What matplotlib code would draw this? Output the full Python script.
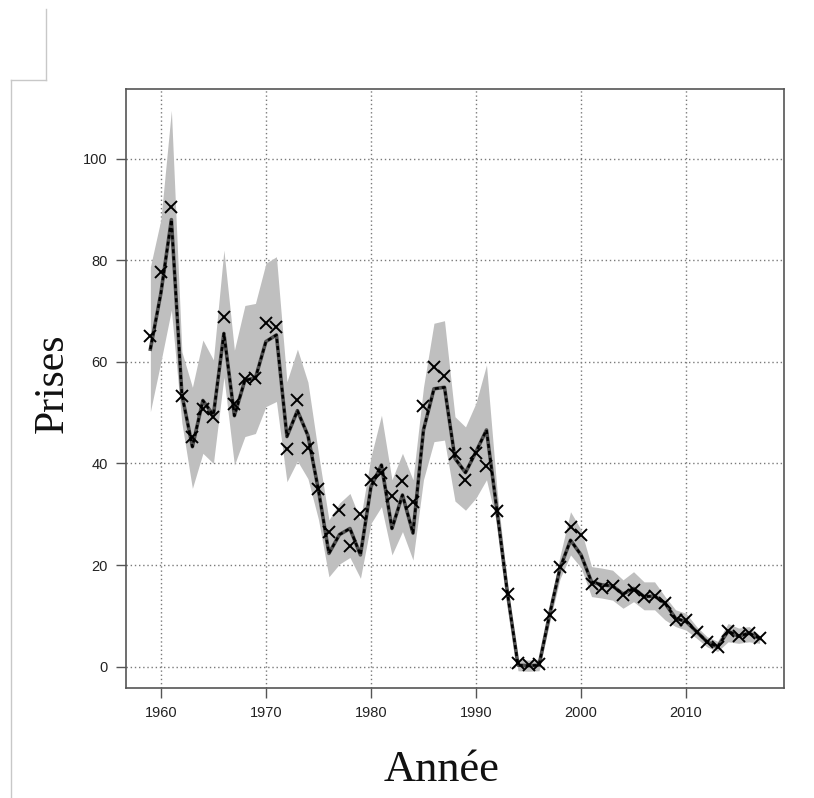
import numpy as np
import matplotlib
matplotlib.use("Agg")
import matplotlib.pyplot as plt
from matplotlib.lines import Line2D

# catch series, 1959-2017
years = list(range(1959, 2018))

observed = [65.1, 77.6, 90.4, 53.3, 45.2, 50.7, 49.2, 68.9, 51.7, 56.6,
            56.9, 67.6, 66.9, 42.8, 52.4, 43.1, 34.9, 26.6, 30.8, 23.8,
            30.0, 36.8, 38.1, 33.6, 36.5, 32.4, 51.4, 58.9, 57.2, 41.9,
            36.8, 42.0, 39.5, 30.6, 14.4, 0.7, 0.3, 0.5, 10.2, 19.6,
            27.4, 25.9, 16.2, 15.4, 15.9, 14.1, 15.1, 13.8, 13.9, 12.6,
            9.2, 9.2, 6.9, 4.9, 3.9, 7.1, 6.0, 6.6, 5.6]

fitted = [62.5, 73.5, 88.0, 53.6, 43.3, 52.4, 49.5, 65.6, 49.4, 56.4,
          56.8, 64.0, 65.3, 45.3, 50.4, 45.5, 34.8, 22.3, 26.0, 27.2,
          22.0, 35.4, 39.7, 27.2, 33.8, 26.3, 46.6, 54.7, 55.0, 41.0,
          38.2, 42.3, 46.6, 30.7, 14.4, 0.3, 0.2, 0.3, 10.2, 19.4,
          24.9, 22.0, 16.7, 16.1, 15.9, 14.3, 15.4, 13.8, 13.9, 12.5,
          9.5, 8.9, 6.9, 4.9, 3.9, 7.0, 6.0, 6.6, 5.6]

upper = [78.7, 88.0, 109.5, 62.0, 55.0, 64.3, 60.4, 82.0, 62.3, 71.1,
         71.5, 79.4, 80.7, 56.1, 62.5, 56.0, 42.0, 28.9, 32.2, 34.1,
         28.9, 41.3, 49.5, 36.8, 42.0, 36.8, 55.0, 67.6, 68.1, 49.2,
         47.2, 51.9, 59.4, 34.8, 16.0, 1.5, 1.3, 1.5, 11.8, 21.8,
         30.5, 27.0, 19.7, 19.4, 19.0, 17.1, 18.7, 16.7, 16.7, 13.8,
         11.2, 10.5, 7.9, 5.9, 5.0, 8.5, 7.6, 7.9, 6.2]

lower = [50.2, 60.0, 70.2, 48.0, 35.1, 42.0, 40.0, 57.0, 39.7, 45.3,
         45.9, 51.2, 52.2, 36.4, 40.5, 37.0, 29.0, 17.7, 20.2, 21.5,
         17.4, 28.2, 31.5, 22.0, 26.6, 21.0, 36.8, 44.3, 44.6, 32.6,
         30.8, 33.2, 36.8, 28.0, 12.8, -0.8, -0.9, -0.8, 8.6, 17.3,
         22.0, 19.5, 13.8, 13.5, 13.1, 11.5, 12.8, 11.2, 11.2, 9.2,
         7.9, 7.2, 5.6, 3.9, 3.0, 4.9, 4.6, 4.9, 4.6]

xticks = [1960, 1970, 1980, 1990, 2000, 2010]
yticks = [0, 20, 40, 60, 80, 100]

fig = plt.figure(figsize=(8.14, 7.98), dpi=100)
ax = fig.add_axes([0.1548, 0.1378, 0.8083, 0.7506])

for t in xticks:
    ax.axvline(t, color="#7a7a7a", lw=1.0, ls=(0, (1, 2)), zorder=0)
for t in yticks:
    ax.axhline(t, color="#7a7a7a", lw=1.0, ls=(0, (1, 2)), zorder=0)

ax.fill_between(years, lower, upper, color="#bfbfbf", lw=0, zorder=1)
ax.plot(years, fitted, color="#505050", lw=2.6, zorder=2)
ax.plot(years, fitted, color="black", lw=1.8, ls=(0, (1.6, 1.2)), zorder=3)
ax.plot(years, observed, ls="none", marker="x", ms=8, mew=1.4, color="black", zorder=4)

ax.set_xlim(1956.68, 2019.32)
ax.set_ylim(-4.2, 113.7)
ax.set_xticks(xticks)
ax.set_yticks(yticks)
ax.tick_params(axis="both", direction="out", length=7, width=1.0, color="#555555",
               labelsize=10.5, labelcolor="#222222", pad=6)
for s in ax.spines.values():
    s.set_color("#555555")
    s.set_linewidth(1.2)
for lab in ax.get_xticklabels() + ax.get_yticklabels():
    lab.set_family("Liberation Sans")

fig.text(0.064, 0.52, "Prises", rotation=90, ha="center", va="center",
         family="Liberation Serif", fontsize=30, color="#111111")
fig.text(0.543, 0.035, "Année", ha="center", va="center",
         family="Liberation Serif", fontsize=32, color="#111111")

# thin border lines at the top-left corner of the canvas
edge = "#c8c8c8"
fig.add_artist(Line2D([46 / 814, 46 / 814], [1 - 9 / 798, 1 - 80 / 798],
                      transform=fig.transFigure, color=edge, lw=1))
fig.add_artist(Line2D([11 / 814, 46 / 814], [1 - 80 / 798, 1 - 80 / 798],
                      transform=fig.transFigure, color=edge, lw=1))
fig.add_artist(Line2D([11 / 814, 11 / 814], [1 - 80 / 798, 0],
                      transform=fig.transFigure, color=edge, lw=1))

fig.savefig("out.png", dpi=100)
